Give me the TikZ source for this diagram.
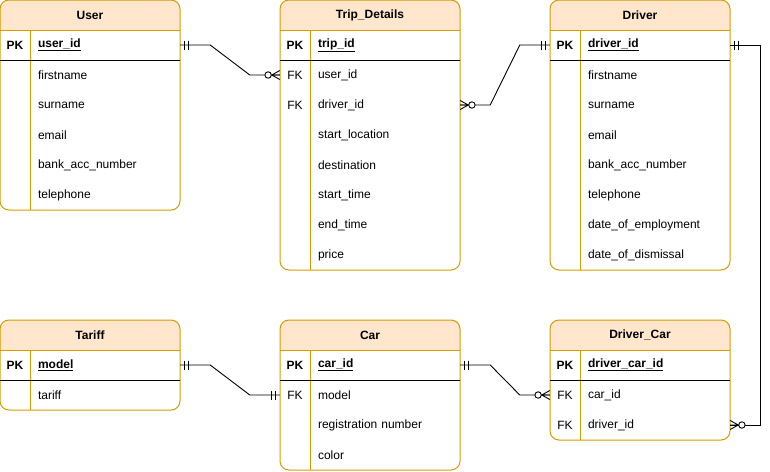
\documentclass[tikz,border=0pt]{standalone}
\usepackage{fontspec}
\setmainfont{Liberation Sans}
\usetikzlibrary{calc}
\definecolor{erborder}{HTML}{D79B00}
\definecolor{erhead}{HTML}{FFE6CC}

\tikzset{
  erfont/.style={font=\fontsize{12}{14}\selectfont},
  rowbox/.style={erfont, minimum width=180pt, minimum height=30pt, inner sep=0pt,
    text width=180pt, align=left},
  keytext/.style={erfont, inner sep=0pt},
  titletext/.style={font=\bfseries\fontsize{12}{14}\selectfont, inner sep=0pt},
  tableframe/.style={draw=erborder, line width=1pt, rounded corners=9pt},
  tableline/.style={draw=erborder, line width=1pt},
  keyline/.style={draw=black, line width=1pt},
  relation/.style={draw=black, line width=0.9pt},
  % crow's foot ends, drawn from the table edge outwards along +x
  mandone/.pic={\draw[line width=0.9pt] (4,-4.5)--(4,4.5) (8,-4.5)--(8,4.5);},
  zeromany/.pic={\draw[line width=0.9pt] (0,-4.5)--(8,0)--(0,4.5) (0,0)--(8,0);
    \draw[line width=0.9pt, fill=white] (11.7,0) circle (3.2pt);}
}

% table frame: name, left, top, height, title
\newcommand\erframe[5]{%
  \begin{scope}
    \clip[rounded corners=9pt] (#2,#3) rectangle ++(180,#4);
    \fill[erhead] (#2,#3) rectangle ++(180,30);
  \end{scope}
  \draw[tableframe] (#2,#3) rectangle ++(180,#4);
  \draw[tableline] (#2,#3+30) -- ++(180,0);
  \draw[tableline] (#2+30,#3+30) -- (#2+30,#3+#4);
  \draw[keyline] (#2,#3+60) -- ++(180,0);
  \node[titletext] (#1) at (#2+90,#3+15) {#5};
}
% table row: name, left, row centre, key, field
\newcommand\errow[5]{%
  \node[rowbox] (#1) at (#2+90,#3) {\hspace*{38pt}#5};
  \node[keytext] at (#2+15,#3) {#4};
}
\newcommand\pkfield[1]{\textbf{\underline{#1}}}

\begin{document}
\begin{tikzpicture}[x=1pt, y=-1pt]
\useasboundingbox (0,0) rectangle (770,471);

% User
\erframe{user}{0}{0}{210}{User}
\errow{user-id}{0}{45}{\textbf{PK}}{\pkfield{user\_id}}
\errow{user-fn}{0}{75}{}{firstname}
\errow{user-sn}{0}{105}{}{surname}
\errow{user-em}{0}{135}{}{email}
\errow{user-bank}{0}{165}{}{bank\_acc\_number}
\errow{user-tel}{0}{195}{}{telephone}

% Trip_Details
\erframe{trip}{280}{0}{270}{Trip\_Details}
\errow{trip-id}{280}{45}{\textbf{PK}}{\pkfield{trip\_id}}
\errow{trip-user}{280}{75}{FK}{user\_id}
\errow{trip-driver}{280}{105}{FK}{driver\_id}
\errow{trip-start}{280}{135}{}{start\_location}
\errow{trip-dest}{280}{165}{}{destination}
\errow{trip-stime}{280}{195}{}{start\_time}
\errow{trip-etime}{280}{225}{}{end\_time}
\errow{trip-price}{280}{255}{}{price}

% Driver
\erframe{driver}{550}{0}{270}{Driver}
\errow{driver-id}{550}{45}{\textbf{PK}}{\pkfield{driver\_id}}
\errow{driver-fn}{550}{75}{}{firstname}
\errow{driver-sn}{550}{105}{}{surname}
\errow{driver-em}{550}{135}{}{email}
\errow{driver-bank}{550}{165}{}{bank\_acc\_number}
\errow{driver-tel}{550}{195}{}{telephone}
\errow{driver-emp}{550}{225}{}{date\_of\_employment}
\errow{driver-dis}{550}{255}{}{date\_of\_dismissal}

% Tariff
\erframe{tariff}{0}{320}{90}{Tariff}
\errow{tariff-model}{0}{365}{\textbf{PK}}{\pkfield{model}}
\errow{tariff-tariff}{0}{395}{}{tariff}

% Car
\erframe{car}{280}{320}{150}{Car}
\errow{car-id}{280}{365}{\textbf{PK}}{\pkfield{car\_id}}
\errow{car-model}{280}{395}{FK}{model}
\errow{car-reg}{280}{425}{}{registration number}
\errow{car-color}{280}{455}{}{color}

% Driver_Car
\erframe{dc}{550}{320}{120}{Driver\_Car}
\errow{dc-id}{550}{365}{\textbf{PK}}{\pkfield{driver\_car\_id}}
\errow{dc-car}{550}{395}{FK}{car\_id}
\errow{dc-driver}{550}{425}{FK}{driver\_id}

% relations
\draw[relation] (user-id.east) -- ++(30,0) -- ($(trip-user.west)+(-30,0)$) -- (trip-user.west);
\pic at (user-id.east) {mandone};
\pic[rotate=180] at (trip-user.west) {zeromany};

\draw[relation] (trip-driver.east) -- ++(30,0) -- ($(driver-id.west)+(-30,0)$) -- (driver-id.west);
\pic at (trip-driver.east) {zeromany};
\pic[rotate=180] at (driver-id.west) {mandone};

\draw[relation] (driver-id.east) -- ++(30,0) |- (dc-driver.east);
\pic at (driver-id.east) {mandone};
\pic at (dc-driver.east) {zeromany};

\draw[relation] (tariff-model.east) -- ++(30,0) -- ($(car-model.west)+(-30,0)$) -- (car-model.west);
\pic at (tariff-model.east) {mandone};
\pic[rotate=180] at (car-model.west) {mandone};

\draw[relation] (car-id.east) -- ++(30,0) -- ($(dc-car.west)+(-30,0)$) -- (dc-car.west);
\pic at (car-id.east) {mandone};
\pic[rotate=180] at (dc-car.west) {zeromany};
\end{tikzpicture}
\end{document}
